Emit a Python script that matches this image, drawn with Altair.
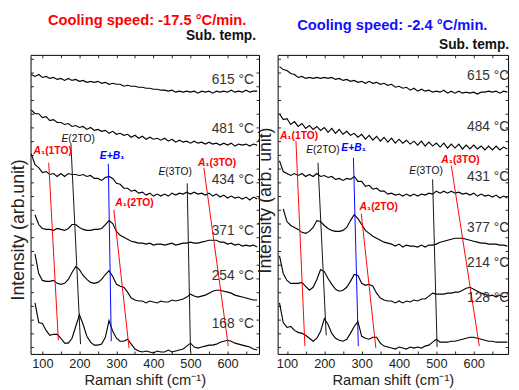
import altair as alt
import pandas as pd

F = "Liberation Sans"

# Raman shift grids (cm-1)
XL = list(range(70, 690, 10))
XR = list(range(80, 700, 10))

# ---- left panel spectra (offset intensity, arb. units) ----
L615 = [293, 291, 293, 290, 291, 289, 290, 288, 289, 287,
        289, 287, 288, 286, 287, 285, 286, 285, 286, 284,
        285, 283, 284, 283, 283, 281, 282, 281, 281, 280,
        280, 279, 279, 278, 278, 277, 277, 276, 277, 275,
        276, 275, 276, 275, 276, 274, 276, 275, 276, 274,
        276, 275, 276, 275, 277, 275, 276, 275, 277, 275,
        276, 276]
L481 = [257, 253, 253, 249, 250, 246, 247, 244, 244, 242,
        243, 240, 241, 239, 240, 237, 239, 236, 237, 235,
        236, 233, 235, 232, 233, 231, 232, 229, 231, 228,
        230, 227, 229, 227, 228, 226, 228, 225, 227, 224,
        226, 224, 225, 223, 225, 223, 224, 222, 224, 222,
        223, 221, 223, 221, 223, 220, 222, 221, 222, 220,
        222, 221]
L434 = [212, 201, 198, 193, 194, 191, 192, 189, 192, 189,
        192, 191, 191, 190, 191, 189, 190, 187, 187, 185,
        188, 189, 187, 182, 181, 177, 177, 174, 175, 172,
        173, 170, 172, 169, 171, 169, 171, 169, 172, 170,
        172, 171, 173, 171, 173, 171, 172, 170, 172, 169,
        171, 168, 170, 167, 169, 167, 168, 166, 168, 165,
        168, 166]
L371 = [None, 150, 140, 136, 135, 135, 134, 136, 135, 134,
        136, 140, 140, 137, 135, 134, 134, 135, 135, 136,
        140, 144, 141, 133, 129, 127, 125, 123, 122, 121,
        121, 120, 121, 119, 120, 120, 119, 120, 121, 119,
        120, 121, 121, 122, 121, 121, 122, 123, 124, 124,
        124, 122, 122, 120, 121, 119, 120, 118, 119, 118,
        119, 117]
L254 = [None, 110, 90, 83, 82, 82, 83, 80, 79, 80,
        84, 91, 97, 94, 88, 84, 81, 80, 81, 84,
        89, 93, 87, 79, 77, 76, 71, 65, 63, 62,
        62, 60, 62, 61, 60, 62, 61, 61, 63, 62,
        63, 64, 66, 69, 67, 66, 67, 68, 70, 72,
        73, 73, 72, 71, 70, 68, 67, 66, 65, 64,
        63, 63]
L168 = [None, 60, 40, 39, 32, 27, 28, 28, 24, 19,
        19, 24, 36, 48, 38, 26, 20, 17, 17, 18,
        25, 42, 31, 24, 21, 21, 23, 18, 13, 11,
        10, 11, 10, 9, 11, 10, 10, 12, 10, 11,
        12, 13, 16, 19, 15, 14, 15, 16, 17, 17,
        18, 20, 21, 22, 21, 19, 18, 17, 16, 15,
        13, 12]

# ---- right panel spectra ----
R615 = [301, 298, 297, 294, 293, 290, 291, 289, 290, 289,
        290, 289, 290, 289, 290, 288, 289, 287, 288, 286,
        287, 285, 286, 284, 286, 284, 285, 283, 284, 282,
        283, 280, 281, 279, 280, 277, 279, 276, 278, 276,
        277, 275, 276, 275, 277, 274, 276, 274, 276, 274,
        275, 274, 275, 273, 275, 275, 276, 275, 276, 274,
        276, 275]
R484 = [253, 247, 248, 242, 245, 240, 243, 238, 241, 237,
        240, 236, 239, 234, 238, 233, 237, 232, 235, 231,
        233, 229, 232, 227, 231, 226, 230, 225, 229, 224,
        228, 223, 227, 223, 226, 222, 225, 221, 225, 220,
        224, 220, 223, 219, 223, 218, 222, 218, 222, 217,
        221, 217, 221, 217, 220, 216, 220, 216, 220, 216,
        219, 217]
R431 = [205, 194, 192, 190, 192, 190, 192, 189, 191, 189,
        192, 189, 190, 188, 189, 186, 187, 185, 187, 186,
        189, 184, 184, 179, 180, 176, 177, 174, 174, 171,
        172, 170, 171, 169, 171, 169, 171, 169, 171, 170,
        172, 171, 174, 172, 174, 172, 174, 172, 173, 171,
        172, 170, 172, 169, 171, 169, 170, 168, 170, 167,
        169, 167]
R377 = [None, 156, 143, 139, 137, 135, 132, 131, 133, 137,
        144, 143, 139, 136, 134, 133, 133, 134, 137, 144,
        150, 146, 140, 134, 131, 128, 126, 124, 122, 121,
        120, 118, 120, 117, 119, 118, 118, 117, 119, 117,
        119, 119, 120, 122, 123, 124, 125, 126, 126, 126,
        125, 124, 123, 122, 121, 121, 120, 120, 120, 119,
        119, 118]
R214 = [108, 90, 83, 80, 80, 80, 81, 77, 73, 76,
        84, 94, 92, 85, 79, 74, 72, 73, 76, 82,
        89, 88, 80, 78, 79, 77, 70, 65, 63, 62,
        62, 60, 62, 60, 62, 61, 63, 62, 64, 64,
        67, 70, 69, 69, 69, 70, 70, 71, 71, 73,
        75, 76, 74, 72, 70, 69, 67, 68, 66, 68,
        66, 67]
R128 = [60, 40, 35, 36, 32, 30, 29, 27, 24, 21,
        24, 31, 44, 38, 29, 24, 22, 21, 23, 29,
        36, 41, 26, 24, 23, 25, 25, 19, 16, 15,
        14, 13, 15, 14, 13, 15, 14, 15, 14, 16,
        17, 20, 23, 20, 20, 20, 21, 21, 22, 23,
        24, 25, 25, 24, 23, 22, 21, 21, 20, 20,
        20, 20]

TEMPS_L = ["615 °C", "481 °C", "434 °C", "371 °C", "254 °C", "168 °C"]
TEMPS_L_Y = [287, 237, 185, 133, 87, 38]
TEMPS_R = ["615 °C", "484 °C", "431 °C", "377 °C", "214 °C", "128 °C"]
TEMPS_R_Y = [291, 239, 188, 136, 101, 65]

# ---- mode guide lines ----
MODE_IDS = ["A1(1TO)", "E(2TO)", "E+B1", "A1(2TO)", "E(3TO)", "A1(3TO)"]
MODE_COLORS = ["#ff0000", "#111111", "#0000ff", "#ff0000", "#111111", "#ff0000"]
LAB_P1 = ["A", "E", "E+B", "A", "E", "A"]
LAB_P2 = ["₁(1TO)", "(2TO)", "₁", "₁(2TO)", "(3TO)", "₁(3TO)"]
LAB_BOLD = [True, False, True, True, False, True]

LL_X1 = [117, 177, 278, 293, 491, 536]
LL_Y1 = [203, 222, 202, 155, 182, 198]
LL_X2 = [143, 203, 286, 334, 500, 602]
LL_Y2 = [22, 18, 21, 14, 10, 16]
LL_LX = [96, 170, 310, 317, 432, 540]
LL_LY = [215, 227, 210, 162, 193, 203]

RL_X1 = [124, 183, 278, 299, 490, 540]
RL_Y1 = [225, 203, 208, 151, 186, 200]
RL_X2 = [148, 205, 291, 338, 502, 615]
RL_Y2 = [16, 27, 16, 14, 15, 16]
RL_LX = [101, 170, 300, 314, 446, 533]
RL_LY = [230, 216, 218, 158, 195, 206]

Y_TICKS = list(range(15, 313, 14))
X_TICKS = list(range(100, 700, 50))


def panel(xgrid, arrays, temps, temps_y, temp_x, x1, y1, x2, y2, lx, ly,
          dom, width, head, head_color, head_x, head_y, sub_x, sub_y,
          ytitle, ytitle_y):
    rows = []
    for name, arr in zip(temps, arrays):
        for x, y in zip(xgrid, arr):
            if y is not None:
                rows.append({"x": x, "y": y, "s": name})
    spec = pd.DataFrame(rows)

    lrows = []
    for i, m in enumerate(MODE_IDS):
        lrows.append({"x": x1[i], "y": y1[i], "id": m, "c": MODE_COLORS[i]})
        lrows.append({"x": x2[i], "y": y2[i], "id": m, "c": MODE_COLORS[i]})
    ldf = pd.DataFrame(lrows)

    labdf = pd.DataFrame({"x": lx, "y": ly, "p1": LAB_P1, "p2": LAB_P2,
                          "c": MODE_COLORS, "b": LAB_BOLD})
    tdf = pd.DataFrame({"x": [temp_x] * len(temps), "y": temps_y, "t": temps})
    hdf = pd.DataFrame({"x": [head_x], "y": [head_y], "t": [head]})
    sdf = pd.DataFrame({"x": [sub_x], "y": [sub_y], "t": ["Sub. temp."]})

    xs = alt.Scale(domain=dom, nice=False, zero=False)
    ys = alt.Scale(domain=[8, 313], nice=False, zero=False)

    xaxis = alt.Axis(values=X_TICKS,
                     labelExpr="datum.value % 100 == 0 ? datum.label : ''",
                     offset=-3, tickSize=3, domain=False, grid=False,
                     labelPadding=4, labelFontSize=13, labelFont=F,
                     labelColor="#222", tickColor="#222",
                     title="Raman shift (cm⁻¹)", titleFont=F, titleFontSize=15,
                     titleFontWeight="normal", titleColor="#222", titlePadding=2)
    yaxis = alt.Axis(values=Y_TICKS, labels=False, offset=-3, tickSize=3,
                     domain=False, grid=False, tickColor="#222",
                     title=ytitle, titleFont=F, titleFontSize=18,
                     titleFontWeight="normal", titleColor="#222",
                     titlePadding=3, titleY=ytitle_y)
    xtop = alt.Axis(orient="top", values=X_TICKS, labels=False, offset=-3,
                    tickSize=3, domain=False, grid=False, tickColor="#222",
                    title=None)
    yright = alt.Axis(orient="right", values=Y_TICKS, labels=False, offset=-3,
                      tickSize=3, domain=False, grid=False, tickColor="#222",
                      title=None)

    X = lambda: alt.X("x:Q", scale=xs, axis=None)
    Y = lambda: alt.Y("y:Q", scale=ys, axis=None)

    spectra = alt.Chart(spec).mark_line(color="black", strokeWidth=1.15).encode(
        x=alt.X("x:Q", scale=xs, axis=xaxis),
        y=alt.Y("y:Q", scale=ys, axis=yaxis),
        detail="s:N",
    )
    mirror = alt.Chart(spec).mark_point(opacity=0).encode(
        x=alt.X("x:Q", scale=xs, axis=xtop),
        y=alt.Y("y:Q", scale=ys, axis=yright),
    )
    guides = alt.Chart(ldf).mark_line(strokeWidth=1).encode(
        x=X(), y=Y(), detail="id:N", color=alt.Color("c:N", scale=None)
    )
    layers = [spectra, mirror, guides]
    for bold in (True, False):
        w = "bold" if bold else "normal"
        sub = alt.Chart(labdf).transform_filter(
            "datum.b" if bold else "!datum.b")
        layers.append(sub.mark_text(align="right", baseline="middle", font=F,
                                    fontSize=10.5, fontWeight=w,
                                    fontStyle="italic").encode(
            x=X(), y=Y(), text="p1:N", color=alt.Color("c:N", scale=None)))
        layers.append(sub.mark_text(align="left", baseline="middle", font=F,
                                    fontSize=10.5, fontWeight=w).encode(
            x=X(), y=Y(), text="p2:N", color=alt.Color("c:N", scale=None)))
    layers.append(alt.Chart(tdf).mark_text(align="right", baseline="middle",
                                           font=F, fontSize=14,
                                           color="#333").encode(
        x=X(), y=Y(), text="t:N"))
    layers.append(alt.Chart(hdf).mark_text(align="center", baseline="middle",
                                           font=F, fontSize=15,
                                           fontWeight="bold",
                                           color=head_color).encode(
        x=X(), y=Y(), text="t:N"))
    layers.append(alt.Chart(sdf).mark_text(align="right", baseline="middle",
                                           font=F, fontSize=14,
                                           fontWeight="bold",
                                           color="#111").encode(
        x=X(), y=Y(), text="t:N"))

    return alt.layer(*layers).resolve_axis(
        x="independent", y="independent").properties(width=width, height=305)


left = panel(XL, [L615, L481, L434, L371, L254, L168], TEMPS_L, TEMPS_L_Y, 671,
             LL_X1, LL_Y1, LL_X2, LL_Y2, LL_LX, LL_LY,
             [68, 685], 233, "Cooling speed: -17.5 °C/min.", "#ff0000", 383, 348,
             677, 332, "Intensity (arb.unit)", 178)
right = panel(XR, [R615, R484, R431, R377, R214, R128], TEMPS_R, TEMPS_R_Y, 695,
              RL_X1, RL_Y1, RL_X2, RL_Y2, RL_LX, RL_LY,
              [75, 692], 235, "Cooling speed: -2.4 °C/min.", "#1010ff", 382, 343,
              695, 323, "Intensity (arb. unit)", 148)

chart = alt.hconcat(left, right, spacing=19, bounds="flush").properties(
    padding={"left": 1, "top": 1, "right": 0, "bottom": 0}
).configure_view(stroke="black", strokeWidth=1)

chart.save("out.html", embed_options={"renderer": "svg", "actions": False})
